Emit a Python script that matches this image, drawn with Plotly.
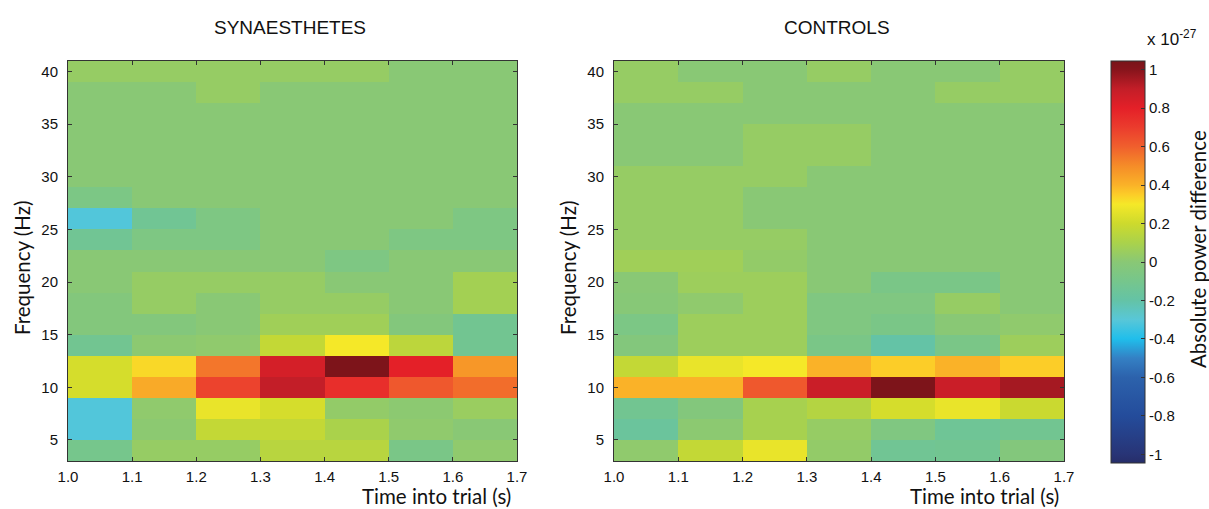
import plotly.graph_objects as go

# ---------------- data ----------------
time_centers = [1.05, 1.15, 1.25, 1.35, 1.45, 1.55, 1.65]
freq_centers = [4, 6, 8, 10, 12, 14, 16, 18, 20, 22, 24, 26, 28, 30, 32, 34, 36, 38, 40]
x_tick_vals = [1.0, 1.1, 1.2, 1.3, 1.4, 1.5, 1.6, 1.7]
x_tick_text = ["1.0", "1.1", "1.2", "1.3", "1.4", "1.5", "1.6", "1.7"]
y_tick_vals = [5, 10, 15, 20, 25, 30, 35, 40]
cbar_tick_vals = [-1, -0.8, -0.6, -0.4, -0.2, 0, 0.2, 0.4, 0.6, 0.8, 1]
cbar_tick_text = ["-1", "-0.8", "-0.6", "-0.4", "-0.2", "0", "0.2", "0.4", "0.6", "0.8", "1"]

# rows: frequency ascending (4 Hz ... 40 Hz); columns: time bins; units 1e-27
synaesthetes = [
    [-0.10, 0.04, 0.04, 0.14, 0.14, -0.08, 0.02],
    [-0.31, 0.01, 0.17, 0.17, 0.10, 0.02, 0.00],
    [-0.31, 0.02, 0.27, 0.22, 0.03, 0.01, 0.05],
    [0.22, 0.42, 0.68, 0.90, 0.75, 0.62, 0.57],
    [0.22, 0.33, 0.55, 0.85, 1.03, 0.80, 0.47],
    [-0.12, 0.01, 0.02, 0.17, 0.30, 0.15, -0.12],
    [-0.03, -0.03, 0.00, 0.07, 0.07, -0.03, -0.12],
    [-0.03, 0.04, 0.00, 0.04, 0.04, 0.00, 0.08],
    [0.00, 0.04, 0.04, 0.04, 0.00, 0.00, 0.08],
    [0.00, 0.00, 0.00, 0.00, -0.06, 0.00, 0.00],
    [-0.13, -0.06, -0.06, 0.00, 0.00, -0.06, -0.06],
    [-0.31, -0.13, -0.06, 0.00, 0.00, 0.00, -0.06],
    [-0.07, 0.00, 0.00, 0.00, 0.00, 0.00, 0.00],
    [0.00, 0.00, 0.00, 0.00, 0.00, 0.00, 0.00],
    [0.00, 0.00, 0.00, 0.00, 0.00, 0.00, 0.00],
    [0.00, 0.00, 0.00, 0.00, 0.00, 0.00, 0.00],
    [0.00, 0.00, 0.00, 0.00, 0.00, 0.00, 0.00],
    [0.00, 0.00, 0.04, 0.00, 0.00, 0.00, 0.00],
    [0.04, 0.04, 0.04, 0.04, 0.04, 0.00, 0.00],
]

controls = [
    [0.02, 0.17, 0.27, 0.03, -0.13, -0.12, -0.03],
    [-0.16, 0.01, 0.09, 0.04, -0.05, -0.14, -0.12],
    [-0.12, -0.03, 0.09, 0.13, 0.22, 0.27, 0.19],
    [0.40, 0.40, 0.62, 0.88, 1.03, 0.88, 0.95],
    [0.17, 0.27, 0.30, 0.40, 0.35, 0.40, 0.35],
    [-0.03, 0.06, 0.06, -0.08, -0.20, -0.08, 0.06],
    [-0.07, 0.06, 0.06, -0.05, -0.08, 0.00, 0.02],
    [-0.01, 0.02, 0.06, -0.05, -0.05, 0.04, 0.00],
    [0.00, 0.06, 0.06, 0.00, -0.08, -0.08, 0.00],
    [0.07, 0.07, 0.03, 0.00, 0.00, 0.00, 0.00],
    [0.04, 0.04, 0.04, 0.00, 0.00, 0.00, 0.00],
    [0.04, 0.04, 0.00, 0.00, 0.00, 0.00, 0.00],
    [0.04, 0.04, 0.00, 0.00, 0.00, 0.00, 0.00],
    [0.04, 0.04, 0.04, 0.00, 0.00, 0.00, 0.00],
    [0.00, 0.00, 0.04, 0.04, 0.00, 0.00, 0.00],
    [0.00, 0.00, 0.04, 0.04, 0.00, 0.00, 0.00],
    [0.00, 0.00, 0.00, 0.00, 0.00, 0.00, 0.00],
    [0.04, 0.04, 0.00, 0.00, 0.00, 0.04, 0.04],
    [0.04, 0.00, 0.00, 0.04, 0.00, 0.00, 0.04],
]

CMIN, CMAX = -1.045, 1.045

# muted "jet" colormap (value -> colour)
cmap_vals = [-1.045, -1.0, -0.8, -0.6, -0.5, -0.4, -0.3, -0.2, -0.1, 0.0, 0.1, 0.2,
             0.3, 0.35, 0.4, 0.5, 0.6, 0.7, 0.8, 0.9, 1.0, 1.045]
cmap_cols = ["rgb(38,45,105)", "rgb(40,52,118)", "rgb(36,76,155)", "rgb(44,98,172)",
             "rgb(52,128,196)", "rgb(32,190,235)", "rgb(88,199,216)", "rgb(100,195,166)",
             "rgb(118,198,140)", "rgb(137,200,117)", "rgb(170,210,75)", "rgb(205,218,45)",
             "rgb(245,232,40)", "rgb(252,205,40)", "rgb(250,178,40)", "rgb(245,140,40)",
             "rgb(240,95,45)", "rgb(235,60,45)", "rgb(228,32,40)", "rgb(195,30,40)",
             "rgb(135,20,28)", "rgb(120,20,25)"]
colorscale = [[(v - CMIN) / (CMAX - CMIN), c] for v, c in zip(cmap_vals, cmap_cols)]

W, H = 1209, 509
TICKFONT = dict(family="Liberation Sans, Arial, sans-serif", size=15, color="#111")
LABELFONT = dict(family="Lato, Noto Sans, sans-serif", size=20.5, color="#111")
TITLEFONT = dict(family="Liberation Sans, Arial, sans-serif", size=19, color="#111")

fig = go.Figure()
fig.add_trace(go.Heatmap(x=time_centers, y=freq_centers, z=synaesthetes,
                         coloraxis="coloraxis", xaxis="x", yaxis="y",
                         hoverinfo="skip"))
fig.add_trace(go.Heatmap(x=time_centers, y=freq_centers, z=controls,
                         coloraxis="coloraxis", xaxis="x2", yaxis="y2",
                         hoverinfo="skip"))

ax_common = dict(showline=True, linecolor="#333", linewidth=1, mirror="ticks",
                 ticks="inside", ticklen=4, tickcolor="#333", tickwidth=1,
                 showgrid=False, zeroline=False, tickfont=TICKFONT, automargin=False)

y0, y1 = (H - 461) / H, (H - 61) / H
fig.update_layout(
    width=W, height=H,
    margin=dict(l=0, r=0, t=0, b=0, autoexpand=False),
    paper_bgcolor="white", plot_bgcolor="white",
    xaxis=dict(domain=[68 / W, 517 / W], range=[1.0, 1.7], tickvals=x_tick_vals,
               ticktext=x_tick_text, anchor="y", ticklabelstandoff=2, **ax_common),
    yaxis=dict(domain=[y0, y1], range=[3, 41], tickvals=y_tick_vals, anchor="x",
               ticklabelstandoff=6, **ax_common),
    xaxis2=dict(domain=[614 / W, 1064 / W], range=[1.0, 1.7], tickvals=x_tick_vals,
                ticktext=x_tick_text, anchor="y2", ticklabelstandoff=2, **ax_common),
    yaxis2=dict(domain=[y0, y1], range=[3, 41], tickvals=y_tick_vals, anchor="x2",
                ticklabelstandoff=6, **ax_common),
    coloraxis=dict(
        colorscale=colorscale, cmin=CMIN, cmax=CMAX,
        colorbar=dict(
            x=1111 / W, xanchor="left", xpad=0, ypad=0,
            y=(H - 61) / H, yanchor="top", len=402 / H, lenmode="fraction",
            thickness=34, thicknessmode="pixels",
            outlinecolor="#333", outlinewidth=1,
            tickvals=cbar_tick_vals, ticktext=cbar_tick_text,
            ticks="inside", ticklen=4, tickcolor="#333",
            tickfont=TICKFONT,
        ),
    ),
)


def note(text, px, py, font, angle=0, xanchor="center"):
    return dict(text=text, x=px / W, y=(H - py) / H, xref="paper", yref="paper",
                xanchor=xanchor, yanchor="middle", textangle=angle,
                showarrow=False, font=font)


annotations = [
    note("SYNAESTHETES", 290, 28, TITLEFONT),
    note("CONTROLS", 837, 28, TITLEFONT),
    note("Frequency (Hz)", 22, 268, LABELFONT, angle=-90),
    note("Frequency (Hz)", 568, 268, LABELFONT, angle=-90),
    note("Time into trial (s)", 513, 496, LABELFONT, xanchor="right"),
    note("Time into trial (s)", 1061, 496, LABELFONT, xanchor="right"),
    note("x 10<sup>-27</sup>", 1172, 38, dict(family="Liberation Sans, Arial, sans-serif", size=17, color="#111")),
    note("Absolute power difference", 1198, 249, LABELFONT, angle=-90),
]
fig.update_layout(annotations=annotations)

fig.write_html("out.html")
